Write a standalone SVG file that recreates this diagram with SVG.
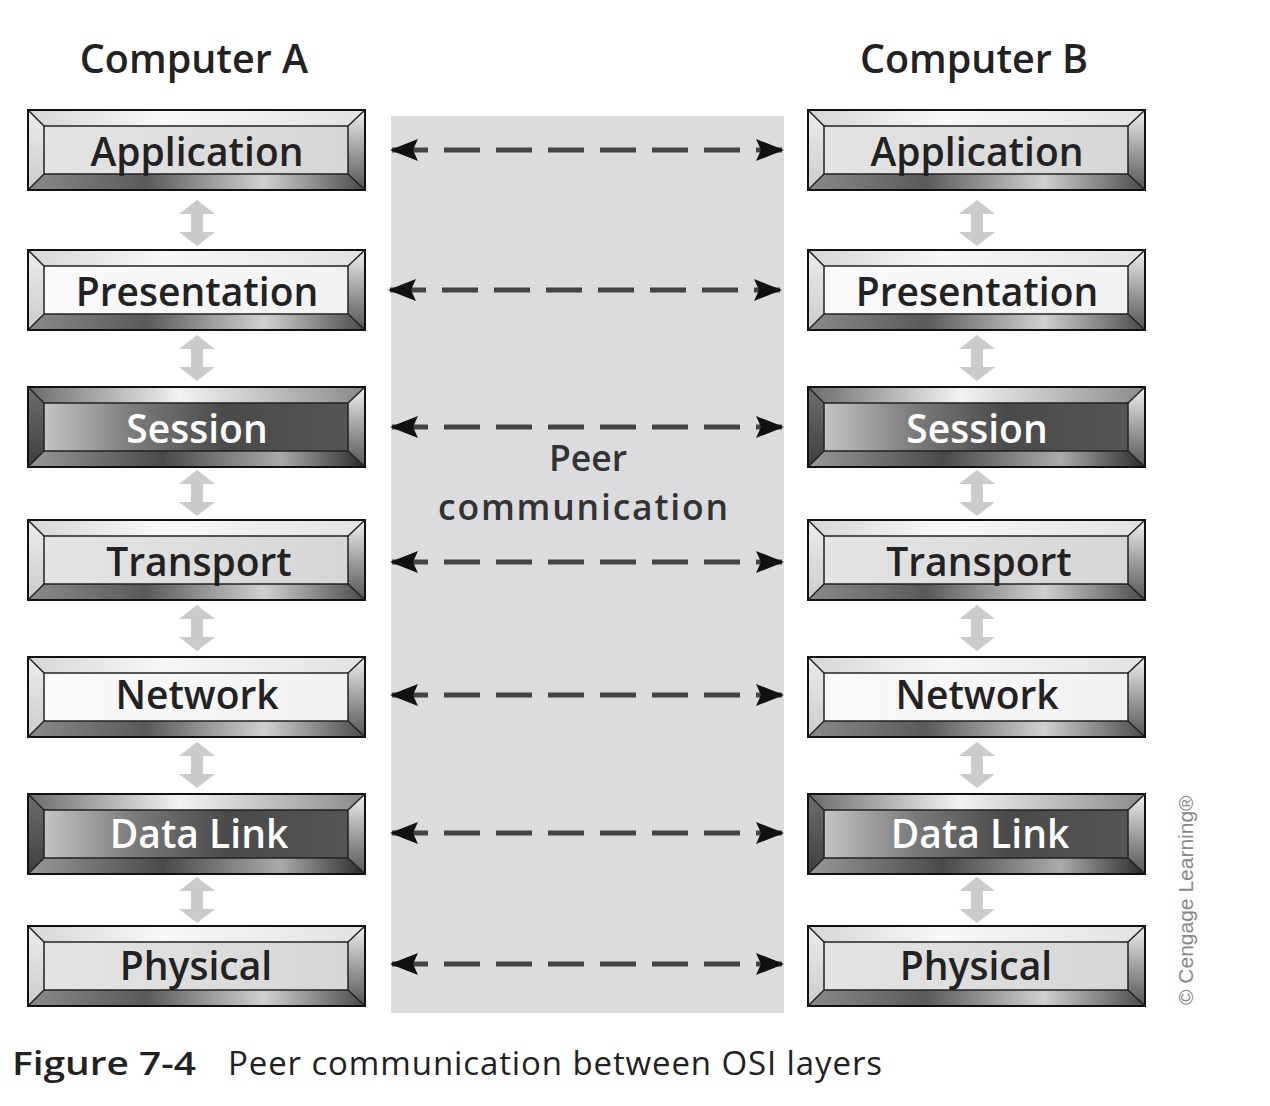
<svg xmlns="http://www.w3.org/2000/svg" xmlns:xlink="http://www.w3.org/1999/xlink" width="1270" height="1106" viewBox="0 0 1270 1106">
<style>
.lbl{font-family:"Open Sans","Liberation Sans",sans-serif;font-weight:600;font-size:39px;text-anchor:middle;fill:#222}
.lbl.w{fill:#fff}
.ttl{font-family:"Open Sans","Liberation Sans",sans-serif;font-weight:600;font-size:39.5px;text-anchor:middle;fill:#222}
.peer{font-family:"Open Sans","Liberation Sans",sans-serif;font-weight:600;font-size:35.5px;text-anchor:middle;fill:#333}
.cap{font-family:"Open Sans","Liberation Sans",sans-serif;font-size:33px;fill:#222}
.copy{font-family:"Liberation Sans",sans-serif;font-size:21px;fill:#888}
.dash{stroke:#444;stroke-width:5;stroke-dasharray:36 16;fill:none}
.updown{fill:#cbcbcb}
.ol{fill:none;stroke:#111;stroke-width:2}
.il{fill:none;stroke:#222;stroke-width:1.5}
</style>
<defs>
<linearGradient id="gTop" x1="0" y1="0" x2="1" y2="0">
<stop offset="0" stop-color="#d6d6d6"/><stop offset="0.4" stop-color="#f8f8f8"/><stop offset="1" stop-color="#e2e2e2"/>
</linearGradient>
<linearGradient id="gLeft" x1="0" y1="0" x2="0" y2="1">
<stop offset="0" stop-color="#ececec"/><stop offset="1" stop-color="#cccccc"/>
</linearGradient>
<linearGradient id="gRight" x1="0" y1="0" x2="0" y2="1">
<stop offset="0" stop-color="#f0f0f0"/><stop offset="0.5" stop-color="#a0a0a0"/><stop offset="1" stop-color="#555"/>
</linearGradient>
<linearGradient id="gBot" x1="0" y1="0" x2="1" y2="0">
<stop offset="0" stop-color="#8a8a8a"/><stop offset="0.35" stop-color="#5a5a5a"/><stop offset="0.7" stop-color="#d0d0d0"/><stop offset="1" stop-color="#4a4a4a"/>
</linearGradient>
<linearGradient id="gFaceGray" x1="0" y1="0" x2="1" y2="0">
<stop offset="0" stop-color="#e4e4e4"/><stop offset="1" stop-color="#d6d6d6"/>
</linearGradient>
<linearGradient id="gFaceWhite" x1="0" y1="0" x2="1" y2="0">
<stop offset="0" stop-color="#fafafa"/><stop offset="1" stop-color="#f2f2f2"/>
</linearGradient>
<linearGradient id="gFaceDark" x1="0" y1="0" x2="1" y2="0">
<stop offset="0" stop-color="#c4c4c4"/><stop offset="0.3" stop-color="#7a7a7a"/><stop offset="0.6" stop-color="#4a4a4a"/><stop offset="1" stop-color="#555"/>
</linearGradient>
<linearGradient id="gTopDark" x1="0" y1="0" x2="1" y2="0">
<stop offset="0" stop-color="#6a6a6a"/><stop offset="0.45" stop-color="#f2f2f2"/><stop offset="1" stop-color="#8a8a8a"/>
</linearGradient>
<linearGradient id="gLeftDark" x1="0" y1="0" x2="0" y2="1">
<stop offset="0" stop-color="#6e6e6e"/><stop offset="1" stop-color="#3e3e3e"/>
</linearGradient>
<linearGradient id="gBotDark" x1="0" y1="0" x2="1" y2="0">
<stop offset="0" stop-color="#999"/><stop offset="0.4" stop-color="#4a4a4a"/><stop offset="0.75" stop-color="#aaa"/><stop offset="1" stop-color="#2a2a2a"/>
</linearGradient>
<g id="frameLight">
<polygon points="0,0 337,0 320,16 16,16" fill="url(#gTop)"/>
<polygon points="0,0 16,16 16,64 0,80" fill="url(#gLeft)"/>
<polygon points="337,0 337,80 320,64 320,16" fill="url(#gRight)"/>
<polygon points="0,80 16,64 320,64 337,80" fill="url(#gBot)"/>
<rect class="ol" x="0" y="0" width="337" height="80"/>
<rect class="il" x="16" y="16" width="304" height="48"/>
<path class="il" d="M0,0 L16,16 M337,0 L320,16 M0,80 L16,64 M337,80 L320,64"/>
</g>
<g id="frameDark">
<polygon points="0,0 337,0 320,16 16,16" fill="url(#gTopDark)"/>
<polygon points="0,0 16,16 16,64 0,80" fill="url(#gLeftDark)"/>
<polygon points="337,0 337,80 320,64 320,16" fill="url(#gRight)"/>
<polygon points="0,80 16,64 320,64 337,80" fill="url(#gBotDark)"/>
<rect class="ol" x="0" y="0" width="337" height="80"/>
<rect class="il" x="16" y="16" width="304" height="48"/>
<path class="il" d="M0,0 L16,16 M337,0 L320,16 M0,80 L16,64 M337,80 L320,64"/>
</g>
<path id="ud" class="updown" d="M0,0 L18,14 L6,14 L6,32 L18,32 L0,46 L-18,32 L-6,32 L-6,14 L-18,14 Z"/>
<marker id="ah" viewBox="0 0 28 22" refX="26" refY="11" markerWidth="28" markerHeight="22" markerUnits="userSpaceOnUse" orient="auto-start-reverse">
<path d="M0,0 L28,11 L0,22 L5,11 Z" fill="#111"/>
</marker>
</defs>
<rect width="1270" height="1106" fill="#fff"/>
<rect id="band" x="391" y="116" width="393" height="897" fill="#dcdcde"/>

<text class="ttl" x="194" y="73">Computer A</text>
<text class="ttl" x="974" y="73">Computer B</text>

<g id="connectors">
<line class="dash" x1="392" y1="150" x2="782" y2="150" marker-start="url(#ah)" marker-end="url(#ah)"/>
<line class="dash" x1="390" y1="290" x2="780" y2="290" marker-start="url(#ah)" marker-end="url(#ah)"/>
<line class="dash" x1="392" y1="427" x2="782" y2="427" marker-start="url(#ah)" marker-end="url(#ah)"/>
<line class="dash" x1="392" y1="562" x2="782" y2="562" marker-start="url(#ah)" marker-end="url(#ah)"/>
<line class="dash" x1="392" y1="695" x2="782" y2="695" marker-start="url(#ah)" marker-end="url(#ah)"/>
<line class="dash" x1="392" y1="833" x2="782" y2="833" marker-start="url(#ah)" marker-end="url(#ah)"/>
<line class="dash" x1="392" y1="964" x2="782" y2="964" marker-start="url(#ah)" marker-end="url(#ah)"/>
<use href="#ud" x="197" y="200"/><use href="#ud" x="197" y="335"/><use href="#ud" x="197" y="470"/>
<use href="#ud" x="197" y="605"/><use href="#ud" x="197" y="742"/><use href="#ud" x="197" y="877"/>
<use href="#ud" x="977" y="200"/><use href="#ud" x="977" y="335"/><use href="#ud" x="977" y="470"/>
<use href="#ud" x="977" y="605"/><use href="#ud" x="977" y="742"/><use href="#ud" x="977" y="877"/>
</g>

<text class="peer"><tspan x="588" y="471">Peer</tspan><tspan x="583" y="520" textLength="290" lengthAdjust="spacing">communication</tspan></text>

<g id="a-application"><rect x="44" y="126" width="304" height="48" fill="url(#gFaceGray)"/><use href="#frameLight" x="28" y="110"/><text class="lbl" x="197" y="166">Application</text></g>
<g id="a-presentation"><rect x="44" y="266" width="304" height="48" fill="url(#gFaceWhite)"/><use href="#frameLight" x="28" y="250"/><text class="lbl" x="197" y="306">Presentation</text></g>
<g id="a-session"><rect x="44" y="403" width="304" height="48" fill="url(#gFaceDark)"/><use href="#frameDark" x="28" y="387"/><text class="lbl w" x="197" y="443">Session</text></g>
<g id="a-transport"><rect x="44" y="536" width="304" height="48" fill="url(#gFaceGray)"/><use href="#frameLight" x="28" y="520"/><text class="lbl" x="199" y="576">Transport</text></g>
<g id="a-network"><rect x="44" y="673" width="304" height="48" fill="url(#gFaceWhite)"/><use href="#frameLight" x="28" y="657"/><text class="lbl" x="197" y="709">Network</text></g>
<g id="a-datalink"><rect x="44" y="810" width="304" height="48" fill="url(#gFaceDark)"/><use href="#frameDark" x="28" y="794"/><text class="lbl w" x="199" y="848">Data Link</text></g>
<g id="a-physical"><rect x="44" y="942" width="304" height="48" fill="url(#gFaceGray)"/><use href="#frameLight" x="28" y="926"/><text class="lbl" x="196" y="980">Physical</text></g>

<g id="b-application"><rect x="824" y="126" width="304" height="48" fill="url(#gFaceGray)"/><use href="#frameLight" x="808" y="110"/><text class="lbl" x="977" y="166">Application</text></g>
<g id="b-presentation"><rect x="824" y="266" width="304" height="48" fill="url(#gFaceWhite)"/><use href="#frameLight" x="808" y="250"/><text class="lbl" x="977" y="306">Presentation</text></g>
<g id="b-session"><rect x="824" y="403" width="304" height="48" fill="url(#gFaceDark)"/><use href="#frameDark" x="808" y="387"/><text class="lbl w" x="977" y="443">Session</text></g>
<g id="b-transport"><rect x="824" y="536" width="304" height="48" fill="url(#gFaceGray)"/><use href="#frameLight" x="808" y="520"/><text class="lbl" x="979" y="576">Transport</text></g>
<g id="b-network"><rect x="824" y="673" width="304" height="48" fill="url(#gFaceWhite)"/><use href="#frameLight" x="808" y="657"/><text class="lbl" x="977" y="709">Network</text></g>
<g id="b-datalink"><rect x="824" y="810" width="304" height="48" fill="url(#gFaceDark)"/><use href="#frameDark" x="808" y="794"/><text class="lbl w" x="980" y="848">Data Link</text></g>
<g id="b-physical"><rect x="824" y="942" width="304" height="48" fill="url(#gFaceGray)"/><use href="#frameLight" x="808" y="926"/><text class="lbl" x="976" y="980">Physical</text></g>

<text class="copy" transform="translate(1193,1005) rotate(-90)">© Cengage Learning®</text>

<text class="cap" x="12" y="1075" font-weight="600" font-size="35" textLength="184" lengthAdjust="spacingAndGlyphs">Figure 7-4</text>
<text class="cap" x="228" y="1075" textLength="654" lengthAdjust="spacing">Peer communication between OSI layers</text>
</svg>
